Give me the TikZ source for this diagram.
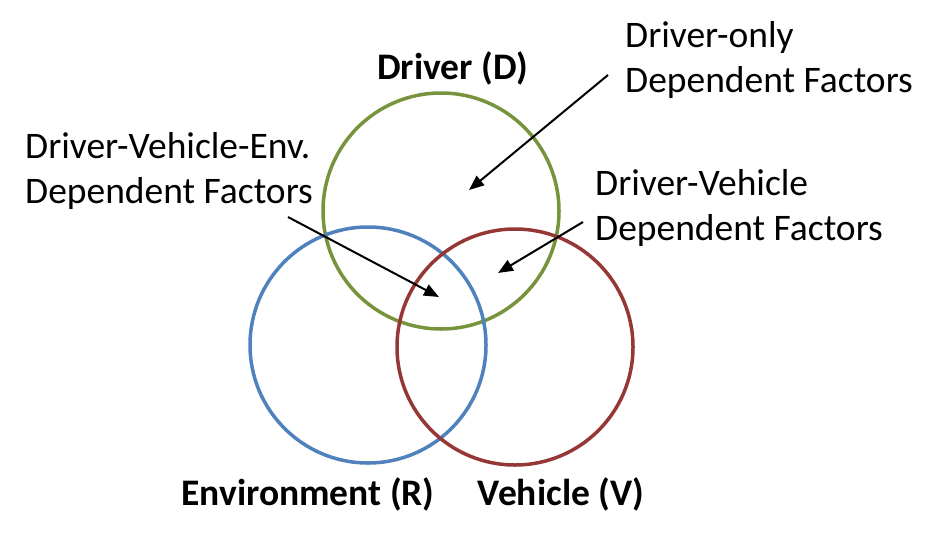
\documentclass[tikz,border=0pt]{standalone}
\usepackage{fontspec}
\setmainfont{Carlito}
\usetikzlibrary{positioning}
\usetikzlibrary{arrows.meta}

\definecolor{drvgreen}{RGB}{119,147,60}
\definecolor{envblue}{RGB}{79,129,189}
\definecolor{vehred}{RGB}{149,55,53}

\begin{document}
\begin{tikzpicture}[x=1pt, y=-1pt,
	set/.style={circle, draw, line width=3.5pt, minimum size=236pt, inner sep=0pt},
	lbl/.style={font=\fontsize{37.5}{44.5}\selectfont, inner sep=0pt, align=left},
	head/.style={font=\fontsize{37.5}{44.5}\selectfont\bfseries, inner sep=0pt},
	pointer/.style={line width=2pt, -{Triangle[length=15pt, width=12pt]}}]
	\useasboundingbox (0,0) rectangle (944,538);

	% the three sets
	\node[set, draw=drvgreen] (drv) at (441,211) {};
	\node[set, draw=envblue] (env) at (368,345) {};
	\node[set, draw=vehred] (veh) at (515,347) {};

	% set names
	\node[head, anchor=base] (drvname) at (453,79) {Driver (D)};
	\node[head, anchor=base] (envname) at (308,505) {Environment (R)};
	\node[head, anchor=base] (vehname) at (561,505) {Vehicle (V)};

	% region labels (base = last line)
	\node[lbl, anchor=base west] (only) at (625,92) {Driver-only\\Dependent Factors};
	\node[lbl, anchor=base west] (dv) at (595,240) {Driver-Vehicle\\Dependent Factors};
	\node[lbl, anchor=base west] (dve) at (25,203) {Driver-Vehicle-Env.\\Dependent Factors};

	% arrow ends
	\coordinate (s1) at (608,75);  \coordinate (e1) at (469,190);
	\coordinate (s2) at (583,222); \coordinate (e2) at (498,273);
	\coordinate (s3) at (288,217); \coordinate (e3) at (439,297);

	\foreach \i in {1,2,3} {
		\draw[pointer] (s\i) -- (e\i);
	}
\end{tikzpicture}
\end{document}
